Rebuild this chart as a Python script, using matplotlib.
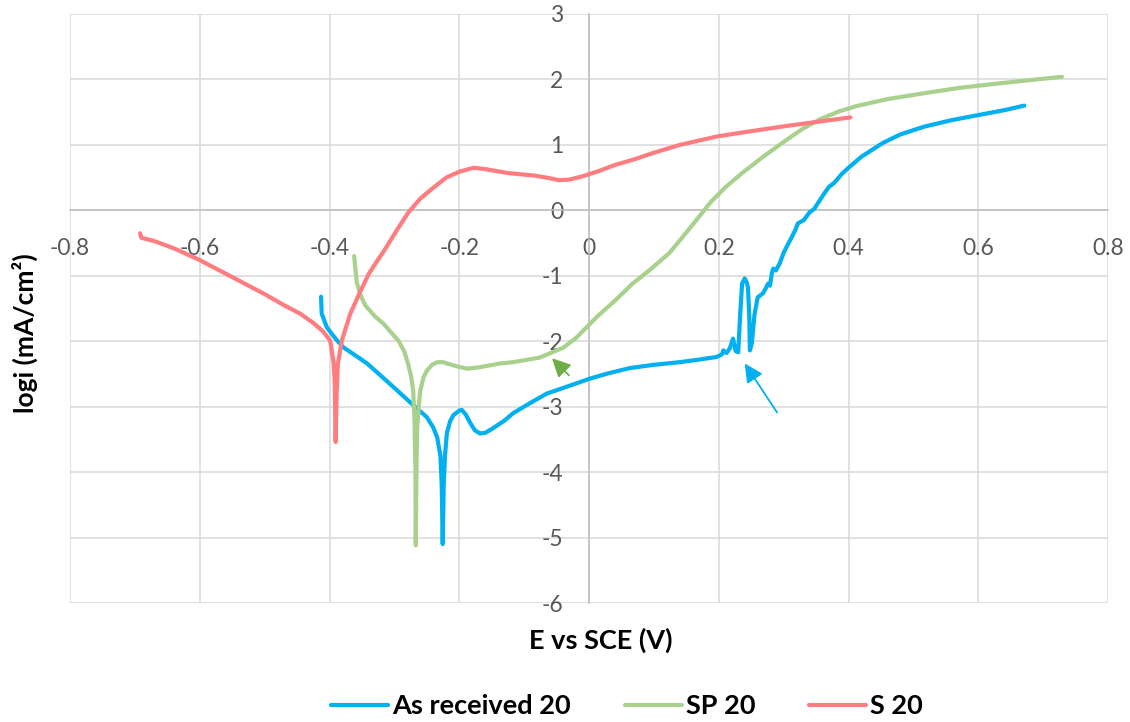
import matplotlib
matplotlib.use("Agg")
import matplotlib.pyplot as plt

plt.rcParams['font.family'] = ['Lato', 'DejaVu Sans']
plt.rcParams['axes.unicode_minus'] = False

# As received 20
ar_x = [-0.413, -0.412, -0.404, -0.390, -0.379, -0.342, -0.307, -0.276, -0.250, -0.240,
        -0.234, -0.229, -0.227, -0.2255, -0.224, -0.222, -0.219, -0.214, -0.209, -0.200,
        -0.196, -0.190, -0.183, -0.176, -0.168, -0.160, -0.148, -0.130, -0.117, -0.090,
        -0.065, -0.030, 0.002, 0.030, 0.063, 0.100, 0.140, 0.170, 0.197, 0.205,
        0.207, 0.212, 0.217, 0.222, 0.226, 0.230, 0.233, 0.236, 0.240, 0.243,
        0.245, 0.247, 0.248, 0.251, 0.255, 0.260, 0.264, 0.268, 0.272, 0.276,
        0.279, 0.282, 0.284, 0.288, 0.294, 0.300, 0.305, 0.312, 0.318, 0.322,
        0.331, 0.340, 0.347, 0.360, 0.370, 0.378, 0.390, 0.400, 0.420, 0.453,
        0.480, 0.517, 0.560, 0.597, 0.640, 0.671]
ar_y = [-1.32, -1.58, -1.79, -1.97, -2.09, -2.34, -2.65, -2.93, -3.16, -3.32,
        -3.47, -3.75, -4.20, -5.10, -4.20, -3.75, -3.40, -3.22, -3.13, -3.06,
        -3.05, -3.12, -3.25, -3.36, -3.41, -3.40, -3.33, -3.21, -3.10, -2.94,
        -2.80, -2.68, -2.57, -2.49, -2.41, -2.36, -2.32, -2.28, -2.24, -2.20,
        -2.14, -2.18, -2.11, -1.96, -2.15, -2.17, -1.60, -1.12, -1.04, -1.10,
        -1.18, -1.60, -2.14, -2.03, -1.60, -1.33, -1.30, -1.27, -1.20, -1.12,
        -1.15, -0.95, -0.89, -0.92, -0.81, -0.65, -0.55, -0.42, -0.30, -0.20,
        -0.15, -0.03, 0.02, 0.22, 0.36, 0.42, 0.56, 0.65, 0.82, 1.03,
        1.16, 1.28, 1.38, 1.45, 1.53, 1.60]

# SP 20
sp_x = [-0.362, -0.358, -0.352, -0.345, -0.330, -0.317, -0.294, -0.285, -0.279, -0.274,
        -0.271, -0.269, -0.2675, -0.267, -0.266, -0.265, -0.262, -0.260, -0.255, -0.250,
        -0.242, -0.234, -0.225, -0.219, -0.205, -0.188, -0.170, -0.137, -0.117, -0.076,
        -0.040, -0.020, 0.000, 0.013, 0.040, 0.066, 0.095, 0.124, 0.145, 0.167,
        0.188, 0.210, 0.236, 0.270, 0.305, 0.330, 0.358, 0.385, 0.411, 0.460,
        0.517, 0.570, 0.623, 0.680, 0.729]
sp_y = [-0.70, -1.10, -1.30, -1.45, -1.62, -1.73, -1.99, -2.15, -2.34, -2.55,
        -2.75, -3.20, -4.00, -5.12, -4.00, -3.36, -2.95, -2.75, -2.55, -2.45,
        -2.36, -2.32, -2.32, -2.34, -2.38, -2.42, -2.40, -2.34, -2.32, -2.25,
        -2.10, -1.95, -1.75, -1.62, -1.38, -1.13, -0.90, -0.65, -0.40, -0.13,
        0.13, 0.35, 0.57, 0.83, 1.08, 1.25, 1.40, 1.51, 1.59, 1.70,
        1.79, 1.87, 1.93, 1.99, 2.04]

# S 20
s_x = [-0.692, -0.690, -0.670, -0.640, -0.600, -0.550, -0.500, -0.470, -0.445, -0.425,
       -0.410, -0.399, -0.394, -0.392, -0.3905, -0.389, -0.387, -0.381, -0.368, -0.353,
       -0.340, -0.327, -0.316, -0.296, -0.279, -0.260, -0.242, -0.220, -0.200, -0.178,
       -0.160, -0.125, -0.083, -0.060, -0.046, -0.030, -0.010, 0.015, 0.039, 0.070,
       0.100, 0.140, 0.198, 0.250, 0.305, 0.350, 0.403]
s_y = [-0.35, -0.42, -0.47, -0.58, -0.76, -1.02, -1.28, -1.45, -1.58, -1.72,
       -1.85, -1.99, -2.30, -2.60, -3.54, -2.80, -2.34, -1.99, -1.58, -1.25,
       -0.98, -0.78, -0.62, -0.30, -0.04, 0.18, 0.33, 0.50, 0.59, 0.65,
       0.63, 0.57, 0.53, 0.49, 0.46, 0.47, 0.52, 0.60, 0.69, 0.78,
       0.88, 1.00, 1.13, 1.21, 1.29, 1.35, 1.42]

series = [("As received 20", ar_x, ar_y, "#00B0F0"),
          ("SP 20", sp_x, sp_y, "#A9D18E"),
          ("S 20", s_x, s_y, "#FF7C80")]

x_ticks = [-0.8, -0.6, -0.4, -0.2, 0, 0.2, 0.4, 0.6, 0.8]
x_labels = ["-0.8", "-0.6", "-0.4", "-0.2", "0", "0.2", "0.4", "0.6", "0.8"]
y_ticks = [-6, -5, -4, -3, -2, -1, 0, 1, 2, 3]

W, H = 1130, 722
fig = plt.figure(figsize=(W / 100, H / 100), dpi=100)
ax = fig.add_axes([70 / W, 1 - 603 / H, 1038 / W, 589 / H])

for name, xs, ys, c in series:
    ax.plot(xs, ys, color=c, lw=3.0, label=name, solid_capstyle='round',
            solid_joinstyle='round', zorder=3)

# arrows
ax.annotate('', xy=(-0.057, -2.26), xytext=(-0.031, -2.52),
            arrowprops=dict(arrowstyle='-|>', color='#70AD47', lw=1.3,
                            mutation_scale=28, shrinkA=0, shrinkB=0), zorder=4)
ax.annotate('', xy=(0.24, -2.34), xytext=(0.29, -3.09),
            arrowprops=dict(arrowstyle='-|>', color='#00B0F0', lw=1.3,
                            mutation_scale=28, shrinkA=0, shrinkB=0), zorder=4)

ax.set_xlim(-0.8, 0.8)
ax.set_ylim(-6, 3)
ax.set_xticks(x_ticks)
ax.set_xticklabels(x_labels)
ax.set_yticks(y_ticks)

ax.grid(True, color='#D9D9D9', lw=1.1)
ax.set_axisbelow(True)
for ln in ax.get_xgridlines() + ax.get_ygridlines():
    ln.set_clip_on(False)

ax.spines['left'].set_position(('data', 0))
ax.spines['bottom'].set_position(('data', 0))
for s in ['left', 'bottom']:
    ax.spines[s].set_color('#BFBFBF')
    ax.spines[s].set_linewidth(1.1)
    ax.spines[s].set_zorder(2)
for s in ['top', 'right']:
    ax.spines[s].set_visible(False)

ax.tick_params(axis='x', length=0, pad=20, labelsize=16.5, labelcolor='#595959')
ax.tick_params(axis='y', length=0, pad=18.5, labelsize=16.5, labelcolor='#595959')

fig.text(25 / W, 1 - 333 / H, "logi (mA/cm²)", rotation=90, ha='center', va='center',
         fontsize=19, fontweight='bold', color='black')
fig.text(601 / W, 1 - 640 / H, "E vs SCE (V)", ha='center', va='center',
         fontsize=19.5, fontweight='bold', color='black')

fig.legend(loc='center', bbox_to_anchor=(627 / W, 1 - 706 / H), ncol=3, frameon=False,
           prop={'size': 19.5, 'weight': 'bold'}, handlelength=2.1, handletextpad=0.15,
           columnspacing=2.0)

fig.savefig("out.png", dpi=100)
